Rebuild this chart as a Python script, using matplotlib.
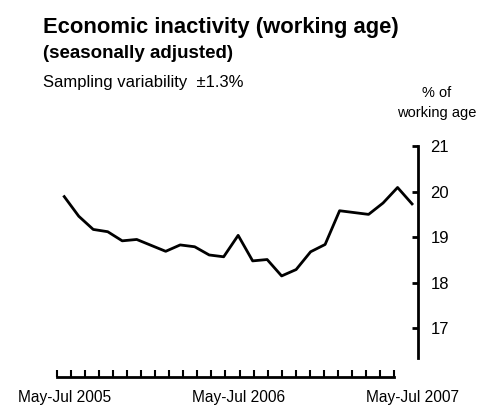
import numpy as np
import matplotlib.pyplot as plt

plt.rcParams['font.family'] = ['Liberation Sans', 'DejaVu Sans']

# Inaktivitätsquote, gleitende 3-Monats-Perioden
periods = ['May-Jul 2005', 'Jun-Aug 2005', 'Jul-Sep 2005', 'Aug-Oct 2005',
           'Sep-Nov 2005', 'Oct-Dec 2005', 'Nov-Jan 2006', 'Dec-Feb 2006',
           'Jan-Mar 2006', 'Feb-Apr 2006', 'Mar-May 2006', 'Apr-Jun 2006',
           'May-Jul 2006', 'Jun-Aug 2006', 'Jul-Sep 2006', 'Aug-Oct 2006',
           'Sep-Nov 2006', 'Oct-Dec 2006', 'Nov-Jan 2007', 'Dec-Feb 2007',
           'Jan-Mar 2007', 'Feb-Apr 2007', 'Mar-May 2007', 'Apr-Jun 2007',
           'May-Jul 2007']
rate = [19.89, 19.46, 19.17, 19.12, 18.92, 18.95, 18.82, 18.69, 18.83,
        18.79, 18.61, 18.57, 19.04, 18.48, 18.51, 18.15, 18.29, 18.68,
        18.84, 19.58, 19.54, 19.50, 19.75, 20.09, 19.73]
yticks = [17, 18, 19, 20, 21]
shown_labels = ['May-Jul 2005', 'May-Jul 2006', 'May-Jul 2007']

W, H = 489, 408
fig = plt.figure(figsize=(W / 100, H / 100), dpi=100)

x = np.arange(len(rate))
ax = fig.add_axes([57 / W, 1 - 358 / H, (418 - 57) / W, (358 - 146) / H])
ax.plot(x, rate, color='black', linewidth=2)
ax.set_xlim(-0.5, 24.41)
ax.set_ylim(16.35, 21)
for s in ['left', 'top', 'bottom']:
    ax.spines[s].set_visible(False)
ax.spines['right'].set_linewidth(2)
ax.yaxis.tick_right()
ax.set_yticks(yticks)
ax.tick_params(axis='y', direction='in', length=4, width=2, pad=9,
               labelsize=12)
idx = [periods.index(p) for p in shown_labels]
ax.set_xticks(idx)
ax.set_xticklabels(shown_labels, fontsize=11.2)
ax.tick_params(axis='x', length=0, pad=23)

# separate tick ruler under the line
ax2 = fig.add_axes([57 / W, 1 - 377 / H, (394 - 57) / W, 0.001])
ax2.set_xlim(0, len(periods) - 1)
ax2.set_xticks(x)
ax2.set_yticks([])
for s in ['left', 'top', 'right']:
    ax2.spines[s].set_visible(False)
ax2.spines['bottom'].set_linewidth(2)
ax2.tick_params(axis='x', direction='in', length=5, width=1.5,
                labelbottom=False)
ax2.patch.set_visible(False)

fig.text(43 / W, 1 - 28 / H, 'Economic inactivity (working age)',
         fontsize=15.8, fontweight='bold', va='center')
fig.text(43 / W, 1 - 53 / H, '(seasonally adjusted)',
         fontsize=13.5, fontweight='bold', va='center')
fig.text(43 / W, 1 - 82 / H, 'Sampling variability  \u00b11.3%',
         fontsize=12, va='center')
fig.text(437 / W, 1 - 103 / H, '% of\nworking age', fontsize=10.5,
         ha='center', va='center', linespacing=1.5)

fig.savefig('out.png', dpi=100)
